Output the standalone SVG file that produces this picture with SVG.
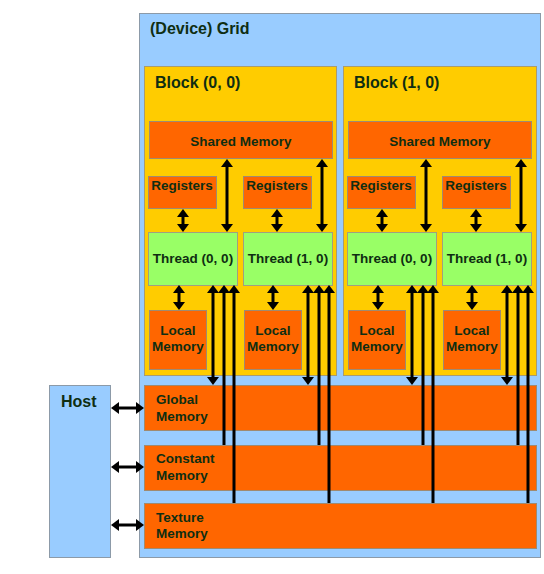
<svg xmlns="http://www.w3.org/2000/svg" width="544" height="574" viewBox="0 0 544 574">
<style>
text{font-family:"Liberation Sans",Arial,sans-serif;font-weight:bold;fill:#0f2e12}
.big{font-size:16px}
.sm{font-size:13.5px}
.c{text-anchor:middle}
.grid{fill:#99ccff;stroke:#8c9aa8;stroke-width:1}
.blk{fill:#ffcc00;stroke:#a89c70;stroke-width:1}
.mem{fill:#ff6600;stroke:#a08a70;stroke-width:1}
.thr{fill:#99ff66;stroke:#a0a080;stroke-width:1}
.ln{stroke:#000;stroke-width:3;fill:none}
.both{marker-start:url(#ah);marker-end:url(#ah)}
.st{marker-start:url(#ah)}
</style>
<defs>
<marker id="ah" markerUnits="userSpaceOnUse" viewBox="0 0 8 12" markerWidth="8" markerHeight="12" refX="1" refY="6" orient="auto-start-reverse">
<path d="M0,0 L8,6 L0,12 z" fill="#000"/>
</marker>
</defs>
<g id="grid">
<rect class="grid" x="139.5" y="13.5" width="401" height="544"/>
<text class="big" x="150" y="34">(Device) Grid</text>
</g>
<g id="block00">
<rect class="blk" x="144.5" y="66.5" width="192" height="309"/>
<text class="big" x="155" y="88">Block (0, 0)</text>
</g>
<g id="block10">
<rect class="blk" x="343.5" y="66.5" width="193" height="309"/>
<text class="big" x="354" y="88">Block (1, 0)</text>
</g>
<g id="shared0">
<rect class="mem" x="149.5" y="121.5" width="183" height="37"/>
<text class="sm c" x="241" y="146">Shared Memory</text>
</g>
<g id="shared1">
<rect class="mem" x="348.5" y="121.5" width="183" height="37"/>
<text class="sm c" x="440" y="146">Shared Memory</text>
</g>
<g id="reg00">
<rect class="mem" x="148.5" y="176.5" width="68" height="32"/>
<text class="sm c" x="182" y="190">Registers</text>
</g>
<g id="reg01">
<rect class="mem" x="243.5" y="176.5" width="68" height="32"/>
<text class="sm c" x="277" y="190">Registers</text>
</g>
<g id="reg10">
<rect class="mem" x="347.5" y="176.5" width="68" height="32"/>
<text class="sm c" x="381" y="190">Registers</text>
</g>
<g id="reg11">
<rect class="mem" x="442.5" y="176.5" width="68" height="32"/>
<text class="sm c" x="476" y="190">Registers</text>
</g>
<g id="thread00">
<rect class="thr" x="148.5" y="232.5" width="89" height="53"/>
<text class="sm c" x="193" y="263">Thread (0, 0)</text>
</g>
<g id="thread01">
<rect class="thr" x="243.5" y="232.5" width="89" height="53"/>
<text class="sm c" x="288" y="263">Thread (1, 0)</text>
</g>
<g id="thread10">
<rect class="thr" x="347.5" y="232.5" width="89" height="53"/>
<text class="sm c" x="392" y="263">Thread (0, 0)</text>
</g>
<g id="thread11">
<rect class="thr" x="442.5" y="232.5" width="89" height="53"/>
<text class="sm c" x="487" y="263">Thread (1, 0)</text>
</g>
<g id="local00">
<rect class="mem" x="149.5" y="310.5" width="57" height="59"/>
<text class="sm c" x="178" y="335">Local</text>
<text class="sm c" x="178" y="351">Memory</text>
</g>
<g id="local01">
<rect class="mem" x="244.5" y="310.5" width="57" height="59"/>
<text class="sm c" x="273" y="335">Local</text>
<text class="sm c" x="273" y="351">Memory</text>
</g>
<g id="local10">
<rect class="mem" x="348.5" y="310.5" width="57" height="59"/>
<text class="sm c" x="377" y="335">Local</text>
<text class="sm c" x="377" y="351">Memory</text>
</g>
<g id="local11">
<rect class="mem" x="443.5" y="310.5" width="57" height="59"/>
<text class="sm c" x="472" y="335">Local</text>
<text class="sm c" x="472" y="351">Memory</text>
</g>
<g id="global">
<rect class="mem" x="144.5" y="385.5" width="392" height="45"/>
<text class="sm" x="156" y="404">Global</text>
<text class="sm" x="156" y="421">Memory</text>
</g>
<g id="constant">
<rect class="mem" x="144.5" y="445.5" width="392" height="45"/>
<text class="sm" x="156" y="463">Constant</text>
<text class="sm" x="156" y="480">Memory</text>
</g>
<g id="texture">
<rect class="mem" x="144.5" y="503.5" width="392" height="45"/>
<text class="sm" x="156" y="522">Texture</text>
<text class="sm" x="156" y="538">Memory</text>
</g>
<g id="host">
<rect class="grid" x="49.5" y="385.5" width="61" height="172"/>
<text class="big" x="61" y="407">Host</text>
</g>
<g id="connectors">
<line class="ln both" x1="118" y1="408" x2="137" y2="408"/>
<line class="ln both" x1="118" y1="467" x2="137" y2="467"/>
<line class="ln both" x1="118" y1="525" x2="137" y2="525"/>
<line class="ln both" x1="183" y1="216" x2="183" y2="225"/>
<line class="ln both" x1="277" y1="216" x2="277" y2="225"/>
<line class="ln both" x1="382" y1="216" x2="382" y2="225"/>
<line class="ln both" x1="476" y1="216" x2="476" y2="225"/>
<line class="ln both" x1="227" y1="166" x2="227" y2="225"/>
<line class="ln both" x1="322" y1="166" x2="322" y2="225"/>
<line class="ln both" x1="426" y1="166" x2="426" y2="225"/>
<line class="ln both" x1="521" y1="166" x2="521" y2="225"/>
<line class="ln both" x1="179" y1="292" x2="179" y2="303"/>
<line class="ln both" x1="273" y1="292" x2="273" y2="303"/>
<line class="ln both" x1="378" y1="292" x2="378" y2="303"/>
<line class="ln both" x1="472" y1="292" x2="472" y2="303"/>
<line class="ln both" x1="213" y1="292" x2="213" y2="378"/>
<line class="ln st" x1="224" y1="292" x2="224" y2="445"/>
<line class="ln st" x1="234" y1="292" x2="234" y2="503"/>
<line class="ln both" x1="308" y1="292" x2="308" y2="378"/>
<line class="ln st" x1="319" y1="292" x2="319" y2="445"/>
<line class="ln st" x1="329" y1="292" x2="329" y2="503"/>
<line class="ln both" x1="412" y1="292" x2="412" y2="378"/>
<line class="ln st" x1="423" y1="292" x2="423" y2="445"/>
<line class="ln st" x1="433" y1="292" x2="433" y2="503"/>
<line class="ln both" x1="507" y1="292" x2="507" y2="378"/>
<line class="ln st" x1="518" y1="292" x2="518" y2="445"/>
<line class="ln st" x1="528" y1="292" x2="528" y2="503"/>
</g>
</svg>
